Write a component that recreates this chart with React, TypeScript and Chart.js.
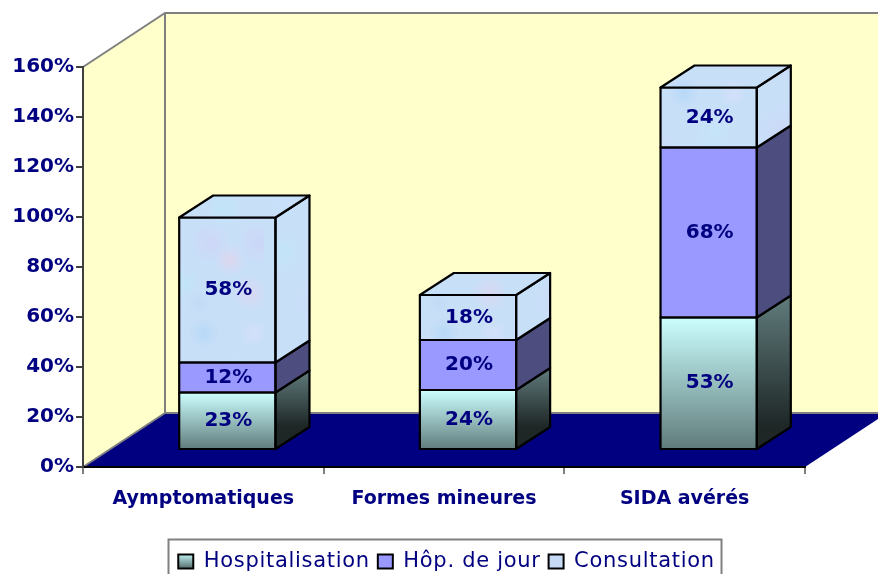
import React, { useEffect, useRef } from "react";
import { Chart, registerables } from "chart.js";

Chart.register(...registerables);

const categories = ["Aymptomatiques", "Formes mineures", "SIDA avérés"];
const hospitalisation = [23, 24, 53];
const hopDeJour = [12, 20, 68];
const consultation = [58, 18, 24];
const seriesNames = ["Hospitalisation", "Hôp. de jour", "Consultation"];
const yMax = 160;
const yStep = 20;

const NAVY = "#000080";
const WALL = "#FFFFCC";
const GREY = "#808080";
const FONT = "'DejaVu Sans', sans-serif";

// 3D projection offsets, in pixels
const WALL_DX = 82;
const WALL_DY = -54;
const BAR_DX = 24;
const BAR_DY = -17;
const SIDE_DX = 34;
const SIDE_DY = -22;

// Legend placement nudges
const LEGEND_SHIFT_X = 44;
const LEGEND_SHIFT_Y = 8;
const LEGEND_SPACING = "0.7px";

const blobs: [number, number, number, string][] = [
  [206, 37, 16, "rgba(245,205,230,0.85)"], [226, 70, 18, "rgba(245,205,230,0.7)"], [186, 20, 20, "rgba(215,200,245,0.7)"],
  [235, 20, 22, "rgba(210,200,245,0.7)"], [180, 110, 16, "rgba(150,205,245,0.6)"], [160, 60, 18, "rgba(185,235,245,0.8)"],
  [200, 225, 22, "rgba(185,235,250,0.9)"], [20, 30, 24, "rgba(185,235,250,0.8)"], [60, 80, 28, "rgba(215,205,248,0.7)"],
  [100, 30, 24, "rgba(205,215,250,0.8)"], [120, 120, 26, "rgba(185,235,250,0.8)"], [40, 150, 28, "rgba(210,205,248,0.7)"],
  [90, 190, 28, "rgba(190,232,250,0.8)"], [150, 170, 24, "rgba(215,210,250,0.7)"], [20, 215, 24, "rgba(200,225,250,0.8)"],
  [210, 150, 24, "rgba(190,235,250,0.7)"], [140, 230, 20, "rgba(215,210,250,0.7)"], [75, 130, 16, "rgba(180,215,245,0.6)"],
  [175, 80, 12, "rgba(180,205,240,0.5)"], [230, 110, 14, "rgba(225,225,250,0.8)"], [120, 70, 16, "rgba(225,225,250,0.7)"],
];

function makeTexture(ctx: CanvasRenderingContext2D) {
  const c = document.createElement("canvas");
  c.width = 240;
  c.height = 240;
  const g = c.getContext("2d")!;
  g.fillStyle = "#C8DFF8";
  g.fillRect(0, 0, 240, 240);
  g.globalAlpha = 0.55;
  for (const [x, y, r, col] of blobs) {
    const rg = g.createRadialGradient(x, y, 0, x, y, r);
    rg.addColorStop(0, col);
    rg.addColorStop(1, col.replace(/[\d.]+\)$/, "0)"));
    g.fillStyle = rg;
    g.fillRect(x - r, y - r, 2 * r, 2 * r);
  }
  return ctx.createPattern(c, "repeat")!;
}

export default function App() {
  const ref = useRef<HTMLCanvasElement>(null);

  useEffect(() => {
    document.body.style.margin = "0";
    const canvas = ref.current!;
    const ctx = canvas.getContext("2d")! as any;
    const texture = makeTexture(ctx);

    const hospFront = (c: any) => {
      const ch = c.chart;
      if (!ch.chartArea || c.dataIndex === undefined) return "#9FC7C7";
      const y = ch.scales.y;
      const top = y.getPixelForValue(hospitalisation[c.dataIndex]);
      const g = ctx.createLinearGradient(0, top, 0, y.getPixelForValue(0));
      g.addColorStop(0, "#CCFFFF");
      g.addColorStop(1, "#5F7A7A");
      return g;
    };

    const legendSwatch = () => {
      const g = ctx.createLinearGradient(0, 553, 0, 567);
      g.addColorStop(0, "#CCFFFF");
      g.addColorStop(1, "#5F7A7A");
      return g;
    };

    const decor = {
      id: "decor",
      beforeLayout(ch: any) {
        const lg = ch.legend;
        if (lg && !lg.__spaced) {
          lg.__spaced = true;
          for (const name of ["fit", "draw"]) {
            const orig = lg[name];
            lg[name] = function (...args: any[]) {
              ctx.letterSpacing = LEGEND_SPACING;
              const out = orig.apply(this, args);
              ctx.letterSpacing = "0px";
              return out;
            };
          }
        }
      },
      afterLayout(ch: any) {
        const lg = ch.legend;
        lg.left += LEGEND_SHIFT_X;
        lg.right += LEGEND_SHIFT_X;
        lg.top += LEGEND_SHIFT_Y;
        lg.bottom += LEGEND_SHIFT_Y;
      },
      beforeDraw(ch: any) {
        const { left, right, top, bottom } = ch.chartArea;
        const c = ch.ctx;
        c.save();
        c.fillStyle = WALL;
        c.beginPath();
        c.moveTo(left, top);
        c.lineTo(left + WALL_DX, top + WALL_DY);
        c.lineTo(right + WALL_DX, top + WALL_DY);
        c.lineTo(right + WALL_DX, bottom + WALL_DY);
        c.lineTo(left + WALL_DX, bottom + WALL_DY);
        c.lineTo(left, bottom);
        c.closePath();
        c.fill();
        c.fillStyle = NAVY;
        c.beginPath();
        c.moveTo(left, bottom);
        c.lineTo(right, bottom);
        c.lineTo(right + WALL_DX, bottom + WALL_DY);
        c.lineTo(left + WALL_DX, bottom + WALL_DY);
        c.closePath();
        c.fill();
        c.strokeStyle = GREY;
        c.lineWidth = 2;
        c.beginPath();
        c.moveTo(left, top);
        c.lineTo(left + WALL_DX, top + WALL_DY);
        c.lineTo(right + WALL_DX, top + WALL_DY);
        c.moveTo(left + WALL_DX, top + WALL_DY);
        c.lineTo(left + WALL_DX, bottom + WALL_DY);
        c.lineTo(right + WALL_DX, bottom + WALL_DY);
        c.moveTo(left + WALL_DX, bottom + WALL_DY);
        c.lineTo(left, bottom);
        c.stroke();
        c.restore();
      },
      beforeDatasetsDraw(ch: any) {
        ch.ctx.save();
        ch.ctx.translate(BAR_DX, BAR_DY);
      },
      afterDatasetsDraw(ch: any) {
        const c = ch.ctx;
        const last = ch.data.datasets.length - 1;
        c.lineWidth = 2.2;
        c.strokeStyle = "#000";
        c.lineJoin = "round";
        ch.data.datasets.forEach((ds: any, di: number) => {
          ch.getDatasetMeta(di).data.forEach((bar: any, i: number) => {
            const { x, y, base, width } = bar.getProps(["x", "y", "base", "width"], true);
            const l = x - width / 2;
            const r = x + width / 2;
            if (di === 0) {
              const g = c.createLinearGradient(0, y + SIDE_DY, 0, base + SIDE_DY);
              g.addColorStop(0, "#617C7C");
              g.addColorStop(1, "#1E2626");
              c.fillStyle = g;
            } else if (di === 1) {
              c.fillStyle = "#4D4D80";
            } else {
              c.fillStyle = texture;
            }
            c.beginPath();
            c.moveTo(r, y);
            c.lineTo(r + SIDE_DX, y + SIDE_DY);
            c.lineTo(r + SIDE_DX, base + SIDE_DY);
            c.lineTo(r, base);
            c.closePath();
            c.fill();
            c.stroke();
            c.strokeRect(l, y, width, base - y);
            if (di === last) {
              c.fillStyle = texture;
              c.beginPath();
              c.moveTo(l, y);
              c.lineTo(l + SIDE_DX, y + SIDE_DY);
              c.lineTo(r + SIDE_DX, y + SIDE_DY);
              c.lineTo(r, y);
              c.closePath();
              c.fill();
              c.stroke();
            }
            c.fillStyle = NAVY;
            c.font = `bold 20px ${FONT}`;
            c.textAlign = "center";
            c.textBaseline = "middle";
            c.fillText(`${ds.data[i]}%`, x + 1, (y + base) / 2);
          });
        });
        c.restore();
      },
      afterDraw(ch: any) {
        const c = ch.ctx;
        c.save();
        c.strokeStyle = GREY;
        c.lineWidth = 2;
        c.strokeRect(168.5, 539.5, 553, 60);
        c.restore();
      },
    };

    const barBase = {
      borderWidth: 0,
      categoryPercentage: 0.8,
      barPercentage: 0.5,
      clip: false as const,
    };

    const chart = new Chart(canvas, {
      type: "bar",
      data: {
        labels: categories,
        datasets: [
          { ...barBase, label: seriesNames[0], data: hospitalisation, backgroundColor: hospFront },
          { ...barBase, label: seriesNames[1], data: hopDeJour, backgroundColor: "#9999FF" },
          { ...barBase, label: seriesNames[2], data: consultation, backgroundColor: () => texture },
        ],
      },
      options: {
        responsive: false,
        animation: false,
        layout: { autoPadding: false, padding: { top: 67, right: 73, left: 0, bottom: 0 } },
        plugins: {
          tooltip: { enabled: false },
          title: { display: false },
          legend: {
            position: "bottom",
            labels: {
              boxWidth: 15,
              boxHeight: 14,
              padding: 8,
              color: NAVY,
              font: { family: FONT, size: 21 },
              generateLabels: () =>
                seriesNames.map((name, i) => ({
                  text: name,
                  fillStyle: i === 0 ? legendSwatch() : i === 1 ? "#9999FF" : "#C6D9F5",
                  strokeStyle: "#000",
                  lineWidth: 2,
                  fontColor: NAVY,
                  datasetIndex: i,
                })),
            },
          },
        },
        scales: {
          x: {
            stacked: true,
            afterFit: (s: any) => { s.height = 68; },
            grid: { drawOnChartArea: false, drawTicks: true, tickLength: 7, color: GREY, lineWidth: 2 },
            border: { color: "#000", width: 2 },
            ticks: { color: NAVY, padding: 14, maxRotation: 0, font: { family: FONT, size: 19, weight: "bold" } },
          },
          y: {
            stacked: true,
            min: 0,
            max: yMax,
            afterFit: (s: any) => { s.width = 83; },
            grid: { drawOnChartArea: false, drawTicks: true, tickLength: 7, color: "#404040", lineWidth: 2 },
            border: { color: "#404040", width: 2 },
            ticks: {
              stepSize: yStep,
              color: NAVY,
              padding: 2,
              font: { family: FONT, size: 20, weight: "bold" },
              callback: (v: any) => `${v}%`,
            },
          },
        },
      },
      plugins: [decor],
    } as any);

    return () => chart.destroy();
  }, []);

  return <canvas ref={ref} width={878} height={574} style={{ display: "block" }} />;
}
